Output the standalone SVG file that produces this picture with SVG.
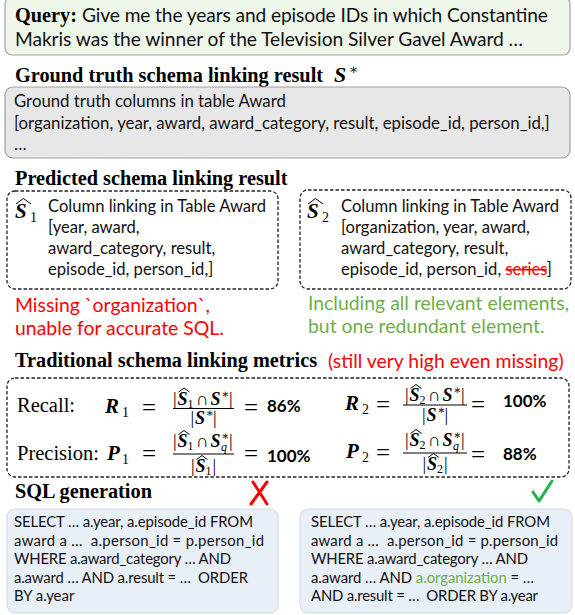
<svg xmlns="http://www.w3.org/2000/svg" width="575" height="615" viewBox="0 0 575 615">
<style>
.hd{font-family:"Liberation Serif",serif;font-weight:700;font-size:20.3px;fill:#000}
.tx{font-family:Lato,"Liberation Sans",sans-serif;fill:#111}
.q{font-size:19.2px}
.gt{font-size:16.8px}
.sb{font-size:16.6px}
.nt{font-size:19.4px}
.red{fill:#ff0000}
.grn{fill:#70ad47}
.sql{font-size:14.9px}
.dash{fill:none;stroke:#222;stroke-width:1.3;stroke-dasharray:3.5 2}
.mr{font-family:"Liberation Serif","DejaVu Serif",serif;fill:#000}
.mi{font-style:italic;font-weight:700}
.hat{fill:none;stroke:#000;stroke-width:1}
.pc{font-family:Lato,"Liberation Sans",sans-serif;font-weight:700;font-size:17px;fill:#000}
.bar{stroke:#000;stroke-width:1}
.sqlbox{fill:#e9eff7;stroke:#d5dce6;stroke-width:1.2}
</style>

<g id="query">
<rect x="5" y="-3" width="565" height="58" rx="7" fill="#eff6ea" stroke="#a3a3a3" stroke-width="1.2"/>
<text class="hd" x="15" y="22">Query:</text>
<text class="tx q" x="82" y="22" textLength="466">Give me the years and episode IDs in which Constantine</text>
<text class="tx q" x="15" y="46" textLength="508">Makris was the winner of the Television Silver Gavel Award …</text>
</g>

<g id="gt-title">
<text class="hd" x="15" y="82">Ground truth schema linking result</text>
<text class="mr mi" x="334" y="82" font-size="22">S</text>
<text class="mr" x="349" y="74" font-size="14">∗</text>
</g>

<g id="gt-box">
<rect x="5" y="87" width="565" height="71" rx="8" fill="#e7e7e7" stroke="#a0a0a0" stroke-width="1.2"/>
<text class="tx gt" x="14" y="107">Ground truth columns in table Award</text>
<text class="tx gt" x="14" y="129">[organization, year, award, award_category, result, episode_id, person_id,]</text>
<text class="tx gt" x="14" y="150">…</text>
</g>

<g id="pred-title">
<text class="hd" x="15" y="185">Predicted schema linking result</text>
</g>

<g id="s1">
<rect class="dash" x="7" y="191" width="271" height="98" rx="8"/>
<text class="mr mi" x="15" y="218" font-size="21">S</text>
<path class="hat" d="M16,204 L23.5,198.5 L31,204"/>
<text class="mr" x="30" y="222" font-size="14">1</text>
<text class="tx sb" x="48" y="212">Column linking in Table Award</text>
<text class="tx sb" x="48" y="233">[year, award,</text>
<text class="tx sb" x="48" y="254">award_category, result,</text>
<text class="tx sb" x="48" y="275">episode_id, person_id,]</text>
</g>

<g id="s1-note">
<text class="tx nt red" x="15" y="312">Missing `organization`,</text>
<text class="tx nt red" x="15" y="335">unable for accurate SQL.</text>
</g>

<g id="s2">
<rect class="dash" x="300" y="190" width="271" height="99" rx="8"/>
<text class="mr mi" x="307" y="218" font-size="21">S</text>
<path class="hat" d="M308,204 L315.5,198.5 L323,204"/>
<text class="mr" x="322" y="222" font-size="14">2</text>
<text class="tx sb" x="341" y="212">Column linking in Table Award</text>
<text class="tx sb" x="341" y="233">[organization, year, award,</text>
<text class="tx sb" x="341" y="254">award_category, result,</text>
<text class="tx sb" x="341" y="275">episode_id, person_id, <tspan fill="#ff0000" text-decoration="line-through">series</tspan>]</text>
</g>

<g id="s2-note">
<text class="tx nt grn" x="308" y="310">Including all relevant elements,</text>
<text class="tx nt grn" x="308" y="333">but one redundant element.</text>
</g>

<g id="metrics-title">
<text class="hd" x="15" y="367">Traditional schema linking metrics</text>
<text class="tx nt red" x="328" y="368">(still very high even missing)</text>
</g>

<g id="metrics">
<rect class="dash" x="7" y="378" width="562" height="99" rx="8"/>
<text class="mr" x="17" y="412" font-size="20.5">Recall:</text>
<text class="mr mi" x="105" y="413" font-size="21">R</text>
<text class="mr" x="122" y="417" font-size="14">1</text>
<text class="mr" x="142" y="416" font-size="25">=</text>
<text class="mr" font-size="18" y="404.5"><tspan x="173">|</tspan><tspan x="177.5" class="mi">S</tspan><tspan x="187.5" y="407.5" font-size="12">1</tspan><tspan x="196" y="404.5">∩</tspan><tspan x="210.5" class="mi">S</tspan><tspan x="221" y="397.5" font-size="12">∗</tspan><tspan x="229" y="404.5">|</tspan></text>
<path class="hat" d="M178.5,392 L184,388 L189.5,392"/>
<line class="bar" x1="173" y1="408.5" x2="234" y2="408.5"/>
<text class="mr" font-size="18" y="424"><tspan x="190.5">|</tspan><tspan x="195" class="mi">S</tspan><tspan x="205.5" y="417" font-size="12">∗</tspan><tspan x="213" y="424">|</tspan></text>
<text class="mr" x="244" y="416" font-size="25">=</text>
<text class="pc" x="267" y="412">86%</text>
<text class="mr" x="17" y="460" font-size="20.5">Precision:</text>
<text class="mr mi" x="107" y="460" font-size="21">P</text>
<text class="mr" x="122" y="464" font-size="14">1</text>
<text class="mr" x="142" y="462" font-size="25">=</text>
<text class="mr" font-size="18" y="447"><tspan x="173">|</tspan><tspan x="177.5" class="mi">S</tspan><tspan x="187.5" y="450" font-size="12">1</tspan><tspan x="196" y="447">∩</tspan><tspan x="210.5" class="mi">S</tspan><tspan x="221" y="440" font-size="12">∗</tspan><tspan x="221" y="451" font-size="12" font-style="italic">q</tspan><tspan x="229" y="447">|</tspan></text>
<path class="hat" d="M178.5,434.5 L184,430.5 L189.5,434.5"/>
<line class="bar" x1="173" y1="454" x2="234" y2="454"/>
<text class="mr" font-size="18" y="472"><tspan x="191">|</tspan><tspan x="195.5" class="mi">S</tspan><tspan x="205.5" y="475" font-size="12">1</tspan><tspan x="212.5" y="472">|</tspan></text>
<path class="hat" d="M196.5,459.5 L202,455.5 L207.5,459.5"/>
<text class="mr" x="244" y="462" font-size="25">=</text>
<text class="pc" x="267" y="462">100%</text>
<text class="mr mi" x="345" y="410" font-size="21">R</text>
<text class="mr" x="362" y="414" font-size="14">2</text>
<text class="mr" x="376" y="413" font-size="25">=</text>
<text class="mr" font-size="18" y="401"><tspan x="405">|</tspan><tspan x="409.5" class="mi">S</tspan><tspan x="419.5" y="404" font-size="12">2</tspan><tspan x="428" y="401">∩</tspan><tspan x="442.5" class="mi">S</tspan><tspan x="453" y="394" font-size="12">∗</tspan><tspan x="461" y="401">|</tspan></text>
<path class="hat" d="M410.5,388.5 L416,384.5 L421.5,388.5"/>
<line class="bar" x1="403" y1="405" x2="467" y2="405"/>
<text class="mr" font-size="18" y="421"><tspan x="422">|</tspan><tspan x="426.5" class="mi">S</tspan><tspan x="437" y="414" font-size="12">∗</tspan><tspan x="444.5" y="421">|</tspan></text>
<text class="mr" x="471" y="413" font-size="25">=</text>
<text class="pc" x="503" y="407">100%</text>
<text class="mr mi" x="346" y="458" font-size="21">P</text>
<text class="mr" x="362" y="462" font-size="14">2</text>
<text class="mr" x="376" y="461" font-size="25">=</text>
<text class="mr" font-size="18" y="446"><tspan x="405">|</tspan><tspan x="409.5" class="mi">S</tspan><tspan x="419.5" y="449" font-size="12">2</tspan><tspan x="428" y="446">∩</tspan><tspan x="442.5" class="mi">S</tspan><tspan x="453" y="439" font-size="12">∗</tspan><tspan x="453" y="450" font-size="12" font-style="italic">q</tspan><tspan x="461" y="446">|</tspan></text>
<path class="hat" d="M410.5,433.5 L416,429.5 L421.5,433.5"/>
<line class="bar" x1="403" y1="453" x2="467" y2="453"/>
<text class="mr" font-size="18" y="470"><tspan x="422.5">|</tspan><tspan x="427" class="mi">S</tspan><tspan x="437" y="473" font-size="12">2</tspan><tspan x="444" y="470">|</tspan></text>
<path class="hat" d="M428,457.5 L433.5,453.5 L439,457.5"/>
<text class="mr" x="471" y="463" font-size="25">=</text>
<text class="pc" x="503" y="460">88%</text>
</g>

<g id="sql-title">
<text class="hd" x="15" y="498">SQL generation</text>
</g>

<g id="marks">
<path d="M253,482 L267,504 M267,482 L251,504" fill="none" stroke="#ff0000" stroke-width="3" stroke-linecap="round"/>
<path d="M533,492 L539,501 L552,481" fill="none" stroke="#1db34a" stroke-width="3" stroke-linecap="round" stroke-linejoin="round"/>
</g>

<g id="sql1">
<rect class="sqlbox" x="7" y="509" width="271" height="104" rx="8"/>
<text class="tx sql" x="14" y="527" xml:space="preserve" textLength="239">SELECT … a.year, a.episode_id FROM</text>
<text class="tx sql" x="14" y="546" xml:space="preserve" textLength="250">award a …  a.person_id = p.person_id</text>
<text class="tx sql" x="14" y="564" xml:space="preserve" textLength="217">WHERE a.award_category … AND</text>
<text class="tx sql" x="14" y="583" xml:space="preserve" textLength="234">a.award … AND a.result = …  ORDER</text>
<text class="tx sql" x="14" y="601" xml:space="preserve">BY a.year</text>
</g>

<g id="sql2">
<rect class="sqlbox" x="300" y="509" width="272" height="104" rx="8"/>
<text class="tx sql" x="311" y="527" xml:space="preserve" textLength="239">SELECT … a.year, a.episode_id FROM</text>
<text class="tx sql" x="311" y="546" xml:space="preserve" textLength="247">award a …  a.person_id = p.person_id</text>
<text class="tx sql" x="311" y="564" xml:space="preserve" textLength="217">WHERE a.award_category … AND</text>
<text class="tx sql" x="311" y="583" xml:space="preserve" textLength="223">a.award … AND <tspan fill="#70ad47">a.organization</tspan> = …</text>
<text class="tx sql" x="311" y="601" xml:space="preserve" textLength="227">AND a.result = …  ORDER BY a.year</text>
</g>
</svg>
